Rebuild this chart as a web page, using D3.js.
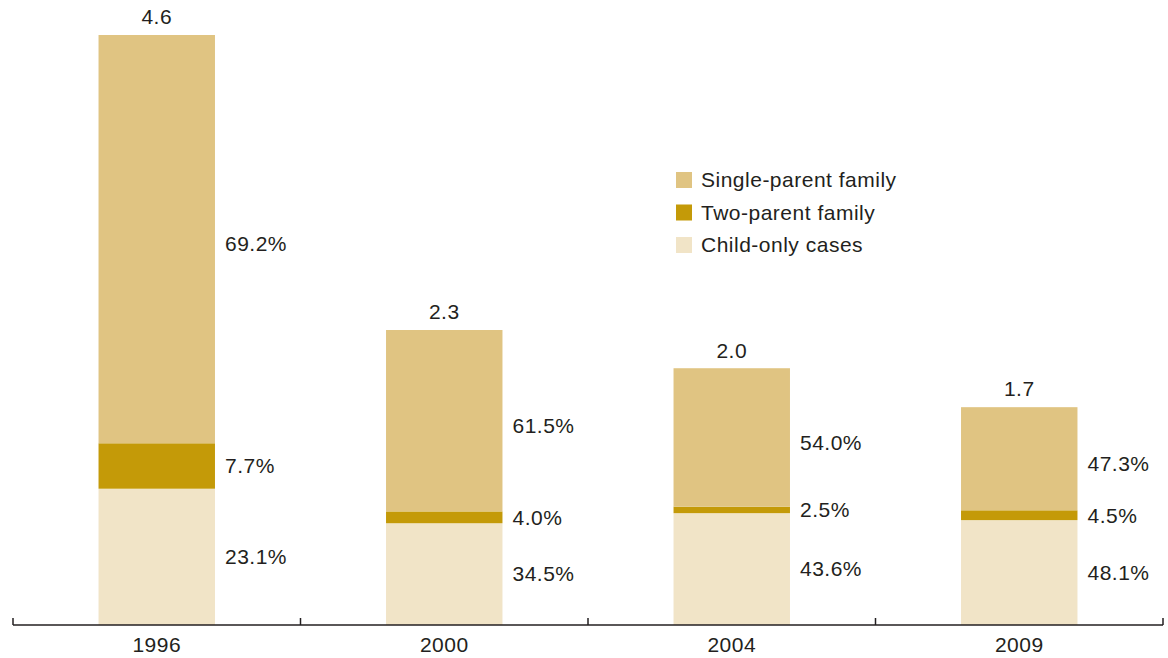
<!DOCTYPE html>
<html>
<head>
<meta charset="utf-8">
<script src="https://cdn.jsdelivr.net/npm/d3@7"></script>
<style>
  body { margin: 0; background: #fff; }
  svg text { font-family: "Liberation Sans", Arial, sans-serif; fill: #231f20; letter-spacing: 0.5px; }
</style>
</head>
<body>
<div id="chart"></div>
<script>
// data
var years = ["1996", "2000", "2004", "2009"];
var totals = [4.6, 2.3, 2.0, 1.7];
var childOnly = [23.1, 34.5, 43.6, 48.1];
var twoParent = [7.7, 4.0, 2.5, 4.5];
var singleParent = [69.2, 61.5, 54.0, 47.3];
var seriesNames = ["Single-parent family", "Two-parent family", "Child-only cases"];

var width = 1168,
    height = 658,
    margin = {top: 35, bottom: 33, left: 13, right: 5};

var colors = {
    "Child-only cases": "#f1e4c7",
    "Two-parent family": "#c49a08",
    "Single-parent family": "#e0c482"
};

var svg = d3.select("#chart").append("svg")
    .attr("width", width)
    .attr("height", height);

var chartWidth = width - margin.left - margin.right,
    chartHeight = height - margin.top - margin.bottom;

var xScale = d3.scaleBand()
    .domain(years)
    .range([0, chartWidth])
    .paddingInner(0)
    .paddingOuter(0);

var yScale = d3.scaleLinear()
    .domain([0, 4.6])
    .range([chartHeight, 0]);

var overallG = svg.append("g")
    .attr("transform", "translate(" + margin.left + "," + margin.top + ")");

// build stacked rows: bottom to top
var rows = years.map(function(y, i) {
    return {
        year: y,
        total: totals[i],
        "Child-only cases": childOnly[i],
        "Two-parent family": twoParent[i],
        "Single-parent family": singleParent[i]
    };
});

var stackOrder = ["Child-only cases", "Two-parent family", "Single-parent family"];
var stack = d3.stack().keys(stackOrder)
    .value(function(d, key) { return d[key] / 100 * d.total; });
var layers = stack(rows);

var barW = xScale.bandwidth() * 0.405;

layers.forEach(function(layer) {
    var g = overallG.append("g").attr("class", "layer");
    // top segment labels sit a bit below the middle in the original
    var shift = layer.key == "Single-parent family" ? 5 : 0;
    g.selectAll("rect")
        .data(layer)
        .enter()
        .append("rect")
        .attr("x", function(d) { return xScale(d.data.year) + xScale.bandwidth() / 2 - barW / 2; })
        .attr("width", barW)
        .attr("y", function(d) { return yScale(d[1]); })
        .attr("height", function(d) { return yScale(d[0]) - yScale(d[1]); })
        .style("fill", colors[layer.key]);

    g.selectAll("text")
        .data(layer)
        .enter()
        .append("text")
        .attr("x", function(d) { return xScale(d.data.year) + xScale.bandwidth() / 2 + barW / 2 + 10; })
        .attr("y", function(d) { return (yScale(d[0]) + yScale(d[1])) / 2 + shift; })
        .attr("dy", "0.35em")
        .style("font-size", "21px")
        .text(function(d) { return d.data[layer.key].toFixed(1) + "%"; });
});

// totals on top
overallG.selectAll("text.total")
    .data(rows)
    .enter()
    .append("text")
    .attr("class", "total")
    .attr("x", function(d) { return xScale(d.year) + xScale.bandwidth() / 2; })
    .attr("y", function(d) { return yScale(d.total) - 18; })
    .attr("dy", "0.35em")
    .attr("text-anchor", "middle")
    .style("font-size", "21px")
    .text(function(d) { return d.total.toFixed(1); });

// x axis
var xAxisG = overallG.append("g")
    .attr("transform", "translate(0," + chartHeight + ")");

xAxisG.append("line")
    .attr("x1", 0)
    .attr("x2", chartWidth)
    .style("stroke", "#231f20")
    .style("stroke-width", 1.5);

var bounds = years.map(function(y) { return xScale(y); }).concat([chartWidth]);
xAxisG.selectAll("line.tick")
    .data(bounds)
    .enter()
    .append("line")
    .attr("class", "tick")
    .attr("x1", function(d) { return d; })
    .attr("x2", function(d) { return d; })
    .attr("y1", 0)
    .attr("y2", -7)
    .style("stroke", "#231f20")
    .style("stroke-width", 1.5);

xAxisG.selectAll("text")
    .data(years)
    .enter()
    .append("text")
    .attr("x", function(d) { return xScale(d) + xScale.bandwidth() / 2; })
    .attr("y", 20)
    .attr("dy", "0.35em")
    .attr("text-anchor", "middle")
    .style("font-size", "21px")
    .text(function(d) { return d; });

// legend
var legend = svg.append("g")
    .attr("transform", "translate(676,180)");

var legendItem = legend.selectAll("g")
    .data(seriesNames)
    .enter()
    .append("g")
    .attr("transform", function(d, i) { return "translate(0," + (i * 32.5) + ")"; });

legendItem.append("rect")
    .attr("x", 0)
    .attr("y", -8)
    .attr("width", 16)
    .attr("height", 16)
    .style("fill", function(d) { return colors[d]; });

legendItem.append("text")
    .attr("x", 25)
    .attr("y", 0)
    .attr("dy", "0.35em")
    .style("font-size", "21px")
    .text(function(d) { return d; });
</script>
</body>
</html>
